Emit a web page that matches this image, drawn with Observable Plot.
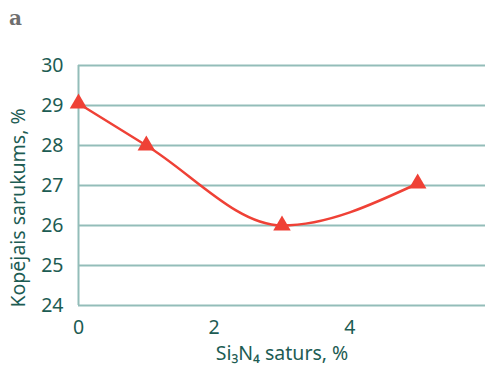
<!DOCTYPE html>
<html>
<head>
<meta charset="utf-8">
<script src="https://cdn.jsdelivr.net/npm/d3@7"></script>
<script src="https://cdn.jsdelivr.net/npm/@observablehq/plot@0.6"></script>
<style>
  body { margin: 0; background: #fff; }
  #wrap { position: relative; width: 485px; height: 368px; }
  #tag { position: absolute; left: 9px; top: 6px; font: bold 20px "DejaVu Serif", "Liberation Serif", serif; color: #6f6f6f; }
  svg text { font-family: "Noto Sans", sans-serif; }
</style>
</head>
<body>
<div id="wrap"><div id="tag">a</div></div>
<script>
const si3n4 = [0, 1, 3, 5];
const shrinkage = [29.05, 28.0, 26.0, 27.05];
const xTicks = [0, 2, 4];
const yTicks = [24, 25, 26, 27, 28, 29, 30];
const xLabel = "Si₃N₄ saturs, %";
const yLabel = "Kopējais sarukums, %";

const data = si3n4.map((x, i) => ({x, y: shrinkage[i]}));
const grid = "#93bdb9";
const ink = "#1d5c53";
const red = "#ef4136";

const chart = Plot.plot({
  width: 485,
  height: 368,
  marginLeft: 78,
  marginRight: 0,
  marginTop: 65,
  marginBottom: 63,
  style: {fontFamily: "Noto Sans, sans-serif", fontSize: "19px", color: ink, background: "transparent"},
  x: {domain: [0, 6]},
  y: {domain: [24, 30]},
  marks: [
    Plot.ruleY(yTicks, {stroke: grid, strokeWidth: 2}),
    Plot.ruleX([0], {y1: 24, y2: 30, stroke: grid, strokeWidth: 2}),
    Plot.axisX({ticks: xTicks, tickFormat: "d", tickSize: 0, tickPadding: 15, label: xLabel, labelAnchor: "center", labelArrow: "none", labelOffset: 54, fontSize: 19.5, fill: ink}),
    Plot.axisY({ticks: yTicks, tickFormat: "d", tickSize: 0, tickPadding: 15, label: null, fontSize: 19.5, fill: ink}),
    Plot.text([yLabel], {frameAnchor: "bottom-left", rotate: -90, textAnchor: "start", lineAnchor: "middle", dx: -60, dy: 2, fontSize: 19.5, fill: ink}),
    Plot.line(data, {x: "x", y: "y", curve: "monotone-x", stroke: red, strokeWidth: 2.5}),
    Plot.dot(data, {x: "x", y: "y", symbol: "triangle", r: 6.5, fill: red, stroke: "none"})
  ]
});
document.getElementById("wrap").prepend(chart);
</script>
</body>
</html>
